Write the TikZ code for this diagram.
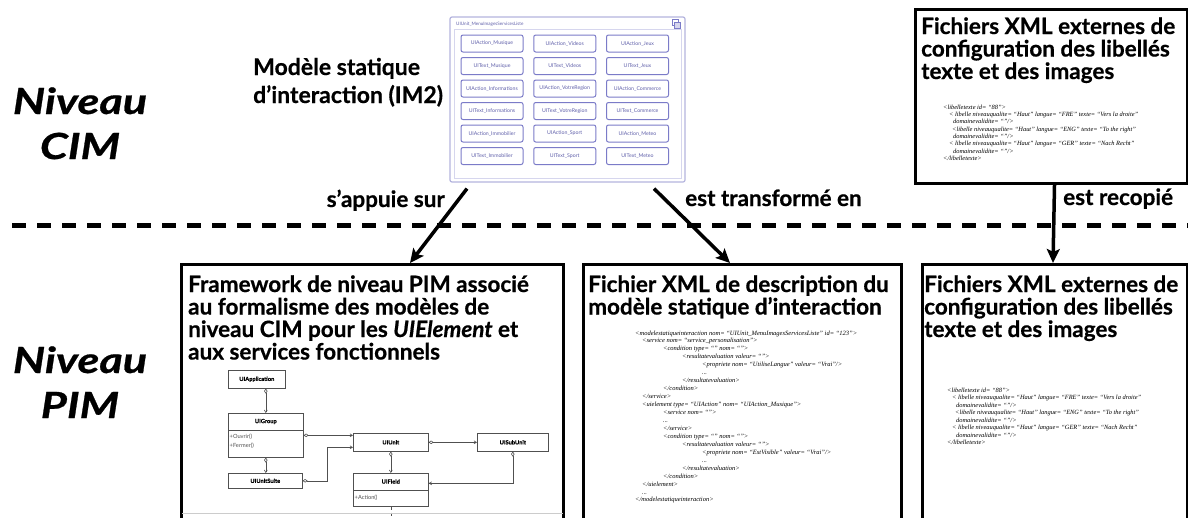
\documentclass[tikz,border=0pt]{standalone}
\usepackage{fontspec}
\usepackage{graphicx}
\setmainfont{Lato}[BoldFeatures={FakeBold=0.6},BoldItalicFeatures={FakeBold=0.6}]
\newfontfamily\xmlfont{Liberation Serif}
\usetikzlibrary{arrows.meta,calc}
\definecolor{uiborder}{HTML}{7B7BC8}
\definecolor{uitext}{HTML}{6060AA}
\definecolor{panelborder}{HTML}{B4B4DE}
\definecolor{panelinner}{HTML}{D6D6EE}
\definecolor{umlgray}{HTML}{505050}
\newcommand\ttlfont{\fontsize{22.5}{22.5}\selectfont\bfseries}
\newcommand\lvlfont{\fontsize{36}{45}\selectfont\bfseries\itshape}
\newcommand\xmlsmall{\xmlfont\itshape\fontsize{6.5}{7.95}\selectfont}
\newcommand\xmltiny{\xmlfont\itshape\fontsize{6.4}{7.35}\selectfont}
\newcommand\umlfont{\fontsize{5.7}{6.5}\selectfont}
\newcommand\xind[1]{\hspace*{#1pt}}
\newcommand\mylines[2]{\parbox[t]{#1pt}{\lineskiplimit=-100pt\raggedright #2}}
\begin{document}
\begin{tikzpicture}[x=1pt,y=-1pt,
  lvl/.style={anchor=base,inner sep=0pt,font=\lvlfont},
  ttl/.style={anchor=base west,inner sep=0pt,font=\ttlfont},
  lbl/.style={inner sep=0pt,font=\fontsize{22.5}{24}\selectfont\bfseries},
  bx/.style={draw,line width=3pt,anchor=north west,inner sep=0pt},
  bigarr/.style={line width=3.5pt,arrows={-Stealth[length=14pt,width=13pt,inset=3pt]}},
  panel/.style={draw=panelborder,line width=1.2pt,rounded corners=2pt,fill=white},
  btn/.style={draw=uiborder,line width=1pt,rounded corners=2pt,fill=white,
    minimum width=62pt,minimum height=17pt,inner sep=0pt,
    text=uitext,font=\fontsize{5.2}{6}\selectfont},
  umlbox/.style={draw=umlgray,line width=0.6pt,fill=white,anchor=north west,inner sep=0pt},
  umlname/.style={inner sep=0pt,font=\umlfont\bfseries},
  umltext/.style={inner sep=0pt,anchor=west,font=\umlfont,text=umlgray},
  umlline/.style={draw=umlgray,line width=0.6pt},
  umlc/.style={draw=umlgray,line width=0.6pt,
    arrows={{Diamond[open,length=5pt,width=3.5pt]}-{Straight Barb[length=2.5pt,width=3pt]}}},
  xmlnode/.style={anchor=base west,inner sep=0pt}
]
\clip (0,0) rectangle (1188,517);
\fill[white] (0,0) rectangle (1188,517);

% level labels
\node[lvl] (cim) at (80,114) {\scalebox{1.25}[1]{\mylines{160}{\centering Niveau\\CIM}}};
\node[lvl] (pim) at (80,373) {\scalebox{1.25}[1]{\mylines{160}{\centering Niveau\\PIM}}};

% separator
\draw[line width=5pt,dash pattern=on 14pt off 11pt] (12,225) -- (1188,225);

% ---------- top: static interaction model ----------
\node[ttl,font=\fontsize{23}{28}\selectfont\bfseries] (im2) at (253,75)
  {\mylines{250}{Modèle statique\\d’interaction (IM2)}};

\node[panel,minimum width=235pt,minimum height=165pt] (ui) at (567.5,99.5) {};
\draw[panelinner,line width=0.8pt] (454,29) rectangle (681,178);
\node[anchor=west,inner sep=0pt,text=uitext,font=\fontsize{4.6}{5}\selectfont] (uititle) at (456,24)
  {UIUnit\_MenuImagesServicesListe};
\draw[uiborder,line width=0.5pt,fill=white] (672,19.5) rectangle (678,25.5);
\draw[uiborder,line width=0.5pt,fill=panelinner] (674.5,22) rectangle (680.5,28);

\foreach \lab [count=\i from 0] in {UIAction\_Musique,UIAction\_Videos,UIAction\_Jeux,
  UIText\_Musique,UIText\_Videos,UIText\_Jeux,
  UIAction\_Informations,UIAction\_VotreRegion,UIAction\_Commerce,
  UIText\_Informations,UIText\_VotreRegion,UIText\_Commerce,
  UIAction\_Immobilier,UIAction\_Sport,UIAction\_Meteo,
  UIText\_Immobilier,UIText\_Sport,UIText\_Meteo}{
  \pgfmathtruncatemacro\rr{div(\i,3)}
  \pgfmathtruncatemacro\cc{mod(\i,3)}
  \node[btn] (b\i) at ({492+72.75*\cc},{43.5+22.5*\rr}) {\lab};
}

% ---------- top right: external XML ----------
\node[bx,minimum width=272pt,minimum height=174pt] (xr) at (914,8) {};
\node[ttl] (xrt) at (921,34) {\mylines{270}{Fichiers XML externes de\\configuration des libellés\\texte et des images}};
\node[xmlnode] (xrx) at (943,109) {\mylines{260}{\xmltiny
<libelletexte id= “88”>\\
\xind{6}< libelle niveauqualite= “Haut” langue= “FRE” texte= “Vers la droite”\\
\xind{10}domainevalidite= “”/>\\
\xind{9}<libelle niveauqualite= “Haut” langue= “ENG” texte= “To the right”\\
\xind{10}domainevalidite= “”/>\\
\xind{6}< libelle niveauqualite= “Haut” langue= “GER” texte= “Nach Recht”\\
\xind{10}domainevalidite= “”/>\\
</libelletexte>}};

% ---------- bottom boxes ----------
\node[bx,minimum width=382pt,minimum height=262pt] (box1) at (180,263) {};
\node[bx,minimum width=318pt,minimum height=262pt] (box2) at (582,263) {};
\node[bx,minimum width=265pt,minimum height=262pt] (box3) at (921,263) {};

\node[ttl] (t1) at (188,292) {\mylines{380}{Framework de niveau PIM associé\\au formalisme des modèles de\\niveau CIM pour les \textit{UIElement} et\\aux services fonctionnels}};
\node[ttl] (t2) at (588,292) {\mylines{320}{Fichier XML de description du\\modèle statique d’interaction}};
\node[ttl] (t3) at (924,292) {\mylines{270}{Fichiers XML externes de\\configuration des libellés\\texte et des images}};

% arrows
\draw[bigarr] ($(ui.south)+(-100.5,6)$) -- ($(box1.north west)+(230,0)$);
\draw[bigarr] ($(ui.south)+(86.5,6)$) -- ($(box2.north west)+(148,0)$);
\draw[bigarr] ($(xr.south)+(3,0)$) -- ($(box3.north west)+(132,0)$);

\node[lbl,anchor=base east] (l1) at (445,207) {s’appuie sur};
\node[lbl,anchor=base west] (l2) at (685,206) {est transformé en};
\node[lbl,anchor=base west] (l3) at (1063,205) {est recopié};

% ---------- UML diagram ----------
\node[umlbox,minimum width=57pt,minimum height=18pt] (app) at (228,370) {};
\node[umlname] (appn) at (app.center) {UIApplication};
\node[umlbox,minimum width=75pt,minimum height=44pt] (grp) at (228,413) {};
\node[umlname] (grpn) at ($(grp.north)+(0,8.5)$) {UIGroup};
\draw[umlline] ($(grp.north west)+(0,17)$) -- ($(grp.north east)+(0,17)$);
\node[umltext] (m1) at ($(grp.north west)+(1.5,24)$) {+Ouvrir()};
\node[umltext] (m2) at ($(grp.north west)+(1.5,33)$) {+Fermer()};
\node[umlbox,minimum width=74pt,minimum height=15pt] (suite) at (228,473) {};
\node[umlname] (suiten) at (suite.center) {UIUnitSuite};
\node[umlbox,minimum width=75pt,minimum height=18pt] (unit) at (353,433) {};
\node[umlname] (unitn) at (unit.center) {UIUnit};
\node[umlbox,minimum width=71pt,minimum height=18pt] (sub) at (477,433) {};
\node[umlname] (subn) at (sub.center) {UISubUnit};
\node[umlbox,minimum width=75pt,minimum height=33pt] (field) at (353,473) {};
\node[umlname] (fieldn) at ($(field.north)+(0,8.5)$) {UIField};
\draw[umlline] ($(field.north west)+(0,17)$) -- ($(field.north east)+(0,17)$);
\node[umltext] (m3) at ($(field.north west)+(1.5,24.5)$) {+Action()};

\draw[umlc] (grp.north |- app.south) -- (grp.north);
\draw[umlc] (grp.south) -- (grp.south |- suite.north);
\draw[umlc] (grp.east) -- (grp.east -| unit.west);
\draw[umlc] (suite.east) -- ($(suite.east)+(25,0)$) |- ($(unit.west)+(0,5)$);
\draw[umlc] (unit.east) -- (sub.west);
\draw[umlc] (unit.south) -- (field.north);
\draw[umlc] (sub.south) |- ($(field.east)+(0,-6.5)$);
\draw[umlgray,line width=0.6pt,dashed] (field.south) -- ++(0,14);
\draw[black!20,line width=0.8pt] ($(box1.north west)+(2,250)$) -- ($(box1.north east)+(-2,250)$);

% ---------- XML description ----------
\node[xmlnode] (x2) at (635,335) {\mylines{300}{\xmlsmall
<modelestatiqueinteraction nom= “UIUnit\_MenuImagesServicesListe” id= “123”>\\
\xind{7}<service nom= “service\_personalisation”>\\
\xind{28}<condition type= “” nom= “”>\\
\xind{47}<resultatevaluation valeur= “”>\\
\xind{67}<propriete nom= “UtiliseLangue” valeur= “Vrai”/>\\
\xind{67}...\\
\xind{47}</resultatevaluation>\\
\xind{28}</condition>\\
\xind{7}</service>\\
\xind{7}<uielement type= “UIAction” nom= “UIAction\_Musique”>\\
\xind{28}<service nom= “”>\\
\xind{28}...\\
\xind{28}</service>\\
\xind{28}<condition type= “” nom= “”>\\
\xind{47}<resultatevaluation valeur= “”>\\
\xind{67}<propriete nom= “EstVisible” valeur= “Vrai”/>\\
\xind{67}...\\
\xind{47}</resultatevaluation>\\
\xind{28}</condition>\\
\xind{7}</uielement>\\
\xind{7}...\\
</modelestatiqueinteraction>}};

% ---------- bottom right XML ----------
\node[xmlnode] (x3) at (947,392) {\mylines{235}{\xmlfont\itshape\fontsize{6.4}{7.5}\selectfont
<libelletexte id= “88”>\\
\xind{5}< libelle niveauqualite= “Haut” langue= “FRE” texte= “Vers la droite”\\
\xind{9}domainevalidite= “”/>\\
\xind{8}<libelle niveauqualite= “Haut” langue= “ENG” texte= “To the right”\\
\xind{9}domainevalidite= “”/>\\
\xind{5}< libelle niveauqualite= “Haut” langue= “GER” texte= “Nach Recht”\\
\xind{9}domainevalidite= “”/>\\
</libelletexte>}};
\end{tikzpicture}
\end{document}
